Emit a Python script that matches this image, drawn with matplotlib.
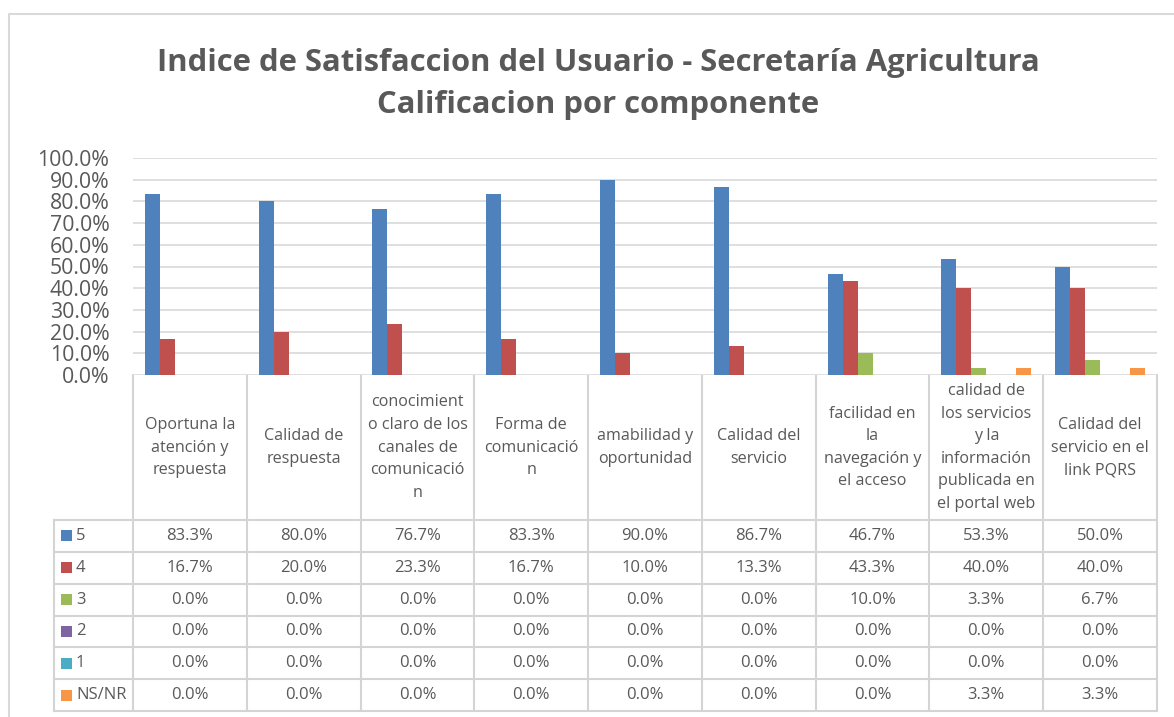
import matplotlib.pyplot as plt
import numpy as np

plt.rcParams['font.family'] = ['Open Sans', 'DejaVu Sans']

categories = ["Oportuna la\natención y\nrespuesta",
              "Calidad de\nrespuesta",
              "conocimient\no claro de los\ncanales de\ncomunicació\nn",
              "Forma de\ncomunicació\nn",
              "amabilidad y\noportunidad",
              "Calidad del\nservicio",
              "facilidad en\nla\nnavegación y\nel acceso",
              "calidad de\nlos servicios\ny la\ninformación\npublicada en\nel portal web",
              "Calidad del\nservicio en el\nlink PQRS"]
series_names = ['5', '4', '3', '2', '1', 'NS/NR']
s5 = [83.3, 80.0, 76.7, 83.3, 90.0, 86.7, 46.7, 53.3, 50.0]
s4 = [16.7, 20.0, 23.3, 16.7, 10.0, 13.3, 43.3, 40.0, 40.0]
s3 = [0.0, 0.0, 0.0, 0.0, 0.0, 0.0, 10.0, 3.3, 6.7]
s2 = [0.0, 0.0, 0.0, 0.0, 0.0, 0.0, 0.0, 0.0, 0.0]
s1 = [0.0, 0.0, 0.0, 0.0, 0.0, 0.0, 0.0, 0.0, 0.0]
nsnr = [0.0, 0.0, 0.0, 0.0, 0.0, 0.0, 0.0, 3.3, 3.3]
series = [s5, s4, s3, s2, s1, nsnr]
colors = ['#4F81BD', '#C0504D', '#9BBB59', '#8064A2', '#4BACC6', '#F79646']

W, H = 1174, 717
txt = '#595959'
grid = '#D9D9D9'

fig = plt.figure(figsize=(W / 100, H / 100), dpi=100)

# layout in pixels
left, right, top, zero = 133, 1157, 158, 375
ax = fig.add_axes([left / W, 1 - zero / H, (right - left) / W, (zero - top) / H])

n = len(categories)
x = np.arange(n)
cw = (right - left) / n
bw = 15 / cw
gap = (1 - bw * len(series)) / 2
for i, vals in enumerate(series):
    pos = x - 0.5 + gap + bw * (i + 0.5)
    ax.bar(pos, vals, width=bw, color=colors[i], linewidth=0, zorder=3)

ax.set_xlim(-0.5, n - 0.5)
ax.set_ylim(0, 100)
ax.set_yticks(np.arange(0, 101, 10))
ax.set_yticklabels(['%.1f%%' % v for v in np.arange(0, 101, 10)])
ax.set_xticks([])
ax.tick_params(axis='y', length=0, pad=17, labelsize=15.3, labelcolor=txt)
ax.grid(axis='y', color=grid, linewidth=1.2, zorder=0)
for s in ax.spines.values():
    s.set_visible(False)

# overlay in pixel coords for the border, title and data table
ov = fig.add_axes([0, 0, 1, 1], zorder=-1)
ov.set_xlim(0, W)
ov.set_ylim(H, 0)
ov.axis('off')

ov.plot([9, 9, W], [H, 14, 14], color=grid, lw=1.5)

ov.text(598, 71, 'Indice de Satisfaccion del Usuario - Secretaría Agricultura',
        ha='center', va='baseline', fontsize=22.3, fontweight='bold', color=txt)
ov.text(598, 113, 'Calificacion por componente',
        ha='center', va='baseline', fontsize=22.3, fontweight='bold', color=txt)

row_top = 520
row_h = (711 - 520) / len(series)
legx = 54
lc = '#D4D4D4'
for k in range(n + 1):
    xx = left + k * cw
    ov.plot([xx, xx], [zero, 711], color=lc, lw=1.5)
ov.plot([legx, legx], [row_top, 711], color=lc, lw=1.5)
for r in range(len(series) + 1):
    yy = row_top + r * row_h
    ov.plot([legx, right], [yy, yy], color=lc, lw=1.5)

for k, lab in enumerate(categories):
    ov.text(left + (k + 0.5) * cw, (zero + row_top) / 2, lab, ha='center', va='center',
            fontsize=11.6, color=txt, linespacing=1.55)

for r, name in enumerate(series_names):
    yc = row_top + (r + 0.5) * row_h
    ov.add_patch(plt.Rectangle((61, yc - 5.5), 11, 11, color=colors[r], lw=0))
    ov.text(76, yc, name, ha='left', va='center', fontsize=12, color=txt)
    for k in range(n):
        ov.text(left + (k + 0.5) * cw, yc, '%.1f%%' % series[r][k], ha='center', va='center',
                fontsize=12, color=txt)

fig.savefig('out.png', dpi=100, facecolor='white')
